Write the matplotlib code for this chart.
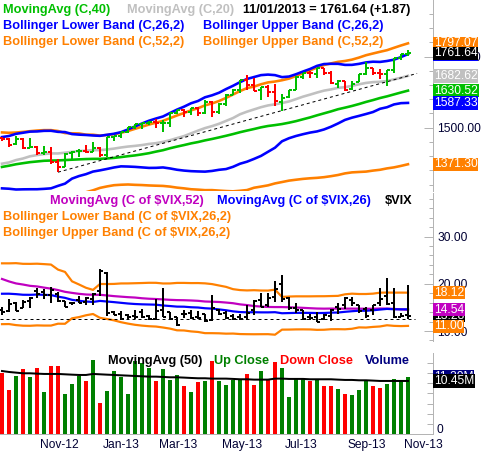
import numpy as np
import pandas as pd
import matplotlib
matplotlib.use("Agg")
import matplotlib.pyplot as plt
from matplotlib.ticker import MultipleLocator, FixedLocator, FuncFormatter, NullLocator
from matplotlib.transforms import blended_transform_factory as blend

plt.rcParams['font.family'] = ['Liberation Sans', 'DejaVu Sans']

# ---------------------------------------------------------------- data
first_week = "2012-09-21"
n_weeks = 59
weeks = pd.date_range(first_week, periods=n_weeks, freq="W-FRI")

# S&P 500 weekly closes for the 51 weeks before the first bar (needed by the indicators)
prior_close = [1131.42, 1155.46, 1224.58, 1238.25, 1285.09, 1253.23, 1263.85, 1215.65, 1158.67,
               1244.28, 1255.19, 1219.66, 1265.33, 1257.60, 1277.81, 1289.09, 1315.38, 1316.33,
               1344.90, 1342.64, 1361.23, 1365.74, 1369.63, 1370.87, 1404.17, 1397.11, 1408.47,
               1398.08, 1370.26, 1378.53, 1403.36, 1369.10, 1353.39, 1295.22, 1317.82, 1278.04,
               1325.66, 1342.84, 1335.02, 1362.16, 1354.68, 1356.78, 1362.66, 1385.97, 1390.99,
               1405.87, 1418.16, 1411.13, 1406.58, 1437.92, 1465.77]

open_ = [1465.4, 1459.5, 1440.9, 1461.4, 1428.8, 1433.2, 1411.9, 1414.0, 1380.0, 1359.9,
         1409.2, 1416.3, 1418.1, 1413.5, 1430.2, 1402.4, 1466.5, 1472.1, 1486.0, 1503.0,
         1513.2, 1517.9, 1519.8, 1515.6, 1518.2, 1551.2, 1560.7, 1556.9, 1569.2, 1553.3,
         1588.8, 1555.3, 1582.3, 1614.4, 1633.7, 1667.5, 1649.6, 1631.7, 1643.4, 1626.7,
         1588.8, 1609.8, 1634.2, 1679.6, 1692.1, 1690.3, 1709.2, 1691.4, 1655.3, 1663.5,
         1635.9, 1660.0, 1688.0, 1709.9, 1691.6, 1690.5, 1703.2, 1744.7, 1759.7]
high = [1467.1, 1463.2, 1471.0, 1464.0, 1464.0, 1437.0, 1434.3, 1433.4, 1388.8, 1409.2,
        1419.7, 1423.7, 1438.6, 1448.0, 1430.7, 1467.9, 1472.3, 1486.0, 1503.3, 1514.4,
        1518.3, 1524.7, 1530.9, 1525.8, 1552.5, 1563.6, 1564.9, 1570.3, 1573.7, 1597.4,
        1593.3, 1585.9, 1618.5, 1635.0, 1667.5, 1687.2, 1674.2, 1644.4, 1648.7, 1654.2,
        1620.1, 1632.1, 1680.3, 1693.1, 1698.4, 1709.7, 1709.2, 1697.9, 1669.5, 1664.0,
        1664.8, 1690.0, 1729.9, 1711.0, 1707.0, 1703.4, 1745.3, 1759.8, 1775.2]
low = [1454.0, 1430.5, 1439.0, 1425.5, 1426.9, 1403.3, 1405.1, 1373.0, 1343.35, 1359.9,
       1385.4, 1398.1, 1411.9, 1413.5, 1398.1, 1398.1, 1451.6, 1463.8, 1482.9, 1496.3,
       1495.0, 1510.6, 1497.3, 1485.0, 1501.5, 1547.4, 1538.6, 1545.1, 1539.5, 1548.0,
       1536.0, 1549.2, 1575.0, 1614.2, 1622.7, 1634.0, 1630.7, 1598.2, 1608.1, 1577.7,
       1560.3, 1604.6, 1634.2, 1671.8, 1676.0, 1676.0, 1684.9, 1654.2, 1639.1, 1627.5,
       1633.4, 1660.0, 1686.5, 1687.1, 1672.6, 1646.5, 1692.9, 1740.0, 1752.7]
close = [1460.15, 1440.67, 1460.93, 1428.59, 1433.19, 1411.94, 1414.20, 1379.85, 1359.88, 1409.15,
         1416.18, 1418.07, 1413.58, 1430.15, 1402.43, 1466.47, 1472.05, 1485.98, 1502.96, 1513.17,
         1517.93, 1519.79, 1515.60, 1518.20, 1551.18, 1560.70, 1556.89, 1569.19, 1553.28, 1588.85,
         1555.25, 1582.24, 1614.42, 1633.70, 1667.47, 1649.60, 1630.74, 1643.38, 1626.73, 1592.43,
         1606.28, 1631.89, 1680.19, 1692.09, 1691.65, 1709.67, 1691.42, 1655.83, 1663.50, 1632.97,
         1655.17, 1687.99, 1709.91, 1691.75, 1690.50, 1703.20, 1744.50, 1759.77, 1761.64]

# $VIX weekly closes for the 51 weeks before the first bar
vix_prior_close = [42.96, 36.27, 28.24, 31.32, 24.53, 30.50, 30.04, 32.00, 34.47, 27.52, 26.38,
                   24.29, 20.73, 23.40, 20.63, 20.91, 18.28, 18.53, 17.10, 20.79, 17.78, 17.31,
                   17.29, 17.11, 14.47, 14.82, 15.50, 16.70, 19.55, 17.44, 16.32, 19.16, 19.89,
                   25.10, 21.76, 26.66, 21.23, 21.11, 20.11, 17.08, 17.10, 16.74, 16.27, 16.70,
                   15.64, 14.74, 13.45, 15.18, 17.47, 15.60, 14.51]
vix_open = [14.5, 14.2, 15.9, 14.9, 16.4, 18.5, 18.3, 17.7, 17.9, 16.3,
            16.0, 16.5, 16.1, 16.8, 18.4, 22.3, 14.0, 13.6, 13.4, 13.2,
            14.0, 13.2, 12.6, 14.5, 14.0, 12.9, 13.7, 13.8, 13.0, 13.5,
            12.4, 14.5, 13.9, 13.2, 13.0, 12.9, 14.5, 16.5, 15.6, 17.2,
            20.0, 17.0, 14.9, 14.4, 12.9, 13.0, 12.6, 13.2, 15.0, 15.4,
            16.6, 15.5, 14.6, 14.5, 16.0, 17.5, 16.0, 13.0, 13.3]
vix_high = [15.0, 16.7, 16.2, 16.6, 17.1, 19.0, 18.9, 19.3, 18.3, 16.4,
            16.2, 17.5, 17.2, 18.0, 23.2, 22.4, 14.2, 14.2, 13.6, 14.5,
            14.6, 13.4, 16.8, 19.0, 14.1, 12.9, 14.4, 14.4, 14.3, 13.5,
            17.6, 14.7, 14.2, 13.5, 13.6, 15.6, 16.5, 18.0, 18.1, 20.5,
            21.9, 17.1, 16.0, 14.5, 13.6, 14.0, 13.5, 14.7, 15.9, 17.3,
            17.1, 15.6, 15.0, 15.5, 19.0, 21.3, 19.1, 13.9, 19.7]
vix_low = [13.3, 14.0, 14.2, 14.8, 14.9, 17.0, 16.8, 16.0, 16.2, 15.1,
           15.4, 15.9, 15.4, 15.5, 17.5, 13.2, 13.3, 12.4, 12.3, 12.6,
           12.7, 12.3, 12.4, 12.9, 12.3, 11.05, 12.7, 12.6, 12.6, 11.9,
           12.2, 13.3, 12.5, 12.3, 12.3, 12.3, 13.4, 15.1, 15.0, 16.2,
           16.2, 14.4, 13.8, 12.5, 12.3, 11.9, 12.3, 12.2, 13.7, 14.6,
           15.3, 13.8, 12.8, 13.3, 15.2, 15.6, 12.8, 12.9, 12.6]
vix_close = [13.98, 15.73, 14.33, 16.14, 17.06, 17.81, 17.59, 18.61, 16.41, 15.14,
             15.87, 15.90, 17.00, 17.84, 22.72, 13.83, 13.36, 12.46, 12.89, 12.90,
             13.02, 12.46, 14.17, 13.06, 12.59, 11.30, 13.57, 12.70, 12.85, 12.06,
             14.97, 13.61, 12.85, 12.59, 12.45, 13.86, 16.30, 15.14, 16.90, 18.90,
             16.86, 14.89, 14.42, 12.54, 12.72, 11.98, 13.41, 14.37, 14.76, 17.01,
             15.85, 14.16, 13.12, 15.46, 16.74, 15.72, 13.04, 13.09, 13.28]

# weekly volume (millions) and its 50-period moving average
volume = [12.0, 8.6, 11.4, 12.9, 11.2, 13.1, 8.2, 13.3, 13.3, 7.9,
          9.9, 11.4, 10.5, 14.5, 6.2, 8.4, 12.5, 11.2, 7.9, 14.3,
          14.0, 13.1, 10.5, 12.9, 10.7, 11.7, 9.4, 8.2, 10.2, 10.5,
          14.3, 10.5, 9.7, 10.7, 10.7, 11.9, 9.6, 12.5, 10.7, 14.1,
          13.1, 7.2, 10.9, 10.9, 10.5, 10.9, 9.4, 9.5, 8.9, 7.8,
          7.6, 8.6, 10.7, 9.5, 9.1, 9.9, 10.9, 10.4, 11.2]
volume_ma50 = [12.41, 12.22, 12.09, 11.96, 11.96, 11.89, 11.83, 11.83, 11.83, 11.76,
               11.69, 11.63, 11.63, 11.83, 11.76, 11.69, 11.63, 11.56, 11.50, 11.43,
               11.37, 11.30, 11.30, 11.24, 11.17, 11.17, 11.11, 11.04, 10.98, 10.98,
               10.91, 10.91, 10.91, 10.85, 10.78, 10.78, 10.71, 10.71, 10.71, 10.91,
               10.91, 10.85, 10.85, 10.85, 10.78, 10.78, 10.78, 10.78, 10.71, 10.65,
               10.65, 10.58, 10.58, 10.52, 10.45, 10.45, 10.45, 10.45, 10.45]

# last-value tags shown on the right axis
price_tag_values = [1797.07, 1761.64, 1682.62, 1630.52, 1587.33, 1371.30]
vix_tag_values = [18.12, 14.54, 11.00]
volume_tag_value = 10.45

trend_anchor_weeks = [8, 40]      # lows joined by the dashed trend line
vix_support_level = 12.45

# ---------------------------------------------------------------- indicators
k = len(prior_close)
c_all = pd.Series(prior_close + close)
ma20 = c_all.rolling(20).mean().values[k:]
ma40 = c_all.rolling(40).mean().values[k:]
m26, s26 = c_all.rolling(26).mean(), c_all.rolling(26).std(ddof=0)
m52, s52 = c_all.rolling(52).mean(), c_all.rolling(52).std(ddof=0)
bb26_up, bb26_lo = (m26 + 2 * s26).values[k:], (m26 - 2 * s26).values[k:]
bb52_up, bb52_lo = (m52 + 2 * s52).values[k:], (m52 - 2 * s52).values[k:]

kv = len(vix_prior_close)
v_all = pd.Series(vix_prior_close + vix_close)
vma52 = v_all.rolling(52).mean().values[kv:]
vma26 = v_all.rolling(26).mean().values[kv:]
vs26 = v_all.rolling(26).std(ddof=0).values[kv:]
vbb_up, vbb_lo = vma26 + 2 * vs26, vma26 - 2 * vs26

x = np.arange(n_weeks)
prev = np.array([prior_close[-1]] + close[:-1])
up = np.array(close) >= prev

# ---------------------------------------------------------------- styling
W, H, DPI = 485, 451, 100
RIGHT = 432.5
AXC = '#B4B4B4'
LBL = '#000033'
GREEN, RED = '#00BF00', '#FF0000'
ORANGE, BLUE, GRAY, MAGENTA = '#FF8000', '#0000FF', '#C0C0C0', '#C000C0'
LBLSZ = 8.64          # 12 px
LEGSZ = 9.2           # ~12.8 px, bold
px = 72.0 / DPI       # points per pixel

fig = plt.figure(figsize=(W / DPI, H / DPI), dpi=DPI, facecolor='white')
XL = (-2 / 7, (RIGHT - 2) / 7)


def panel(top, bot, ylim):
    ax = fig.add_axes([0, 1 - bot / H, RIGHT / W, (bot - top) / H])
    ax.set_facecolor('none')
    for s in ('top', 'left', 'bottom'):
        ax.spines[s].set_visible(False)
    ax.spines['right'].set_color(AXC)
    ax.spines['right'].set_linewidth(1 * px)
    ax.yaxis.tick_right()
    ax.tick_params(axis='x', which='both', bottom=False, labelbottom=False)
    ax.tick_params(axis='y', which='both', direction='in', color=AXC, width=1 * px,
                   labelcolor=LBL, labelsize=LBLSZ, pad=5 * px, left=False, right=True)
    ax.tick_params(axis='y', which='major', length=9 * px)
    ax.tick_params(axis='y', which='minor', length=4 * px)
    ax.set_xlim(XL)
    ax.set_ylim(ylim)
    return ax


def ohlc(ax, o, h, l, c, colors, lw=2 * px, tick=0.36):
    ax.vlines(x, l, h, colors=colors, lw=lw)
    ax.hlines(o, x - tick, x, colors=colors, lw=lw)
    ax.hlines(c, x, x + tick, colors=colors, lw=lw)


def ftext(xp, yp, s, color, bold=True, size=LEGSZ, **kw):
    fig.text(xp / W, 1 - yp / H, s, color=color, fontsize=size,
             fontweight='bold' if bold else 'normal', va='baseline', ha='left', **kw)


def tag(ax, value, s, fc, tc='white'):
    tr = blend(fig.transFigure, ax.transData)
    fig.text(434 / W, value, s, transform=tr, color=tc, fontsize=LBLSZ, va='center', ha='left',
             bbox=dict(boxstyle='square,pad=0.06', fc=fc, ec='none'))


fmt2 = FuncFormatter(lambda v, p: f"{v:.2f}")

# ---------------------------------------------------------------- price panel
ax_p = panel(0, 191, (1500 - 63.3 * 3.521, 1500 + 127.7 * 3.521))
ax_p.plot(x, bb52_lo, color=ORANGE, lw=2.6 * px)
ax_p.plot(x, bb26_lo, color=BLUE, lw=2.6 * px)
ax_p.plot(x, ma40, color=GREEN, lw=2.6 * px)
ax_p.plot(x, ma20, color=GRAY, lw=2.6 * px)
ax_p.plot(x, bb52_up, color=ORANGE, lw=2.6 * px)
ax_p.plot(x, bb26_up, color=BLUE, lw=2.6 * px)
ta, tb = trend_anchor_weeks
slope = (low[tb] - low[ta]) / (tb - ta)
tx = np.array([ta, 59.3])
ax_p.plot(tx, low[ta] + slope * (tx - ta), color='black', lw=1 * px, ls=(0, (3, 3)))
ohlc(ax_p, open_, high, low, close, np.where(up, GREEN, RED))
ax_p.yaxis.set_major_locator(FixedLocator([1500, 1750]))
ax_p.yaxis.set_minor_locator(MultipleLocator(50))
ax_p.yaxis.set_major_formatter(fmt2)

# ---------------------------------------------------------------- VIX panel
ax_x = panel(193, 341, (10 - 10 / 4.725, 10 + 138 / 4.725))
ax_x.plot(x, vbb_up, color=ORANGE, lw=2.2 * px)
ax_x.plot(x, vbb_lo, color=ORANGE, lw=2.2 * px)
ax_x.plot(x, vma52, color=MAGENTA, lw=2.2 * px)
ax_x.plot(x, vma26, color=BLUE, lw=2.2 * px)
ax_x.plot([XL[0], 59.0], [vix_support_level] * 2, color='black', lw=1 * px, ls=(0, (3, 3)))
ohlc(ax_x, vix_open, vix_high, vix_low, vix_close, 'black')
ax_x.yaxis.set_major_locator(FixedLocator([10, 20, 30]))
ax_x.yaxis.set_minor_locator(MultipleLocator(2))
ax_x.yaxis.set_major_formatter(fmt2)

# ---------------------------------------------------------------- volume panel
ax_v = panel(353, 434, (0, 81 * 0.197))
ax_v.spines['bottom'].set_visible(True)
ax_v.spines['bottom'].set_color(AXC)
ax_v.spines['bottom'].set_linewidth(1 * px)
ax_v.bar(x, volume, width=4 / 7, color=np.where(up, '#008000', RED), linewidth=0)
ax_v.plot(x, volume_ma50, color='black', lw=2 * px)
ax_v.yaxis.set_major_locator(NullLocator())
ax_v.yaxis.set_minor_locator(FixedLocator(np.arange(2, 16, 2)))
ax_v.tick_params(axis='y', which='minor', length=6 * px)
ftext(437, 433.3, "0", LBL, bold=False, size=LBLSZ)

# month labels
tr_dates = blend(ax_v.transData, fig.transFigure)
for i in range(1, n_weeks):
    d, dp = weeks[i], weeks[i - 1]
    if d.month != dp.month and d.month % 2 == 1:
        fig.text(i - 4 / 7, 1 - 448.3 / H, d.strftime('%b-%y'), transform=tr_dates,
                 color=LBL, fontsize=LBLSZ, ha='left', va='baseline')

# ---------------------------------------------------------------- legends
hdr = f"{weeks[-1].strftime('%m/%d/%Y')} = {close[-1]:.2f} ({close[-1] - close[-2]:+.2f})"
ftext(3, 12.7, "MovingAvg (C,40)", GREEN)
ftext(127, 12.7, "MovingAvg (C,20)", GRAY)
ftext(243, 12.7, hdr, 'black')
ftext(3, 28.7, "Bollinger Lower Band (C,26,2)", BLUE)
ftext(203, 28.7, "Bollinger Upper Band (C,26,2)", BLUE)
ftext(3, 44.7, "Bollinger Lower Band (C,52,2)", ORANGE)
ftext(203, 44.7, "Bollinger Upper Band (C,52,2)", ORANGE)

ftext(50, 204, "MovingAvg (C of $VIX,52)", MAGENTA)
ftext(217, 204, "MovingAvg (C of $VIX,26)", BLUE)
ftext(385, 204, "$VIX", 'black')
ftext(3, 220, "Bollinger Lower Band (C of $VIX,26,2)", ORANGE)
ftext(3, 235.7, "Bollinger Upper Band (C of $VIX,26,2)", ORANGE)

ftext(108, 364.3, "MovingAvg (50)", 'black')
ftext(214, 364.3, "Up Close", '#008000')
ftext(280, 364.3, "Down Close", RED)
ftext(365, 364.3, "Volume", '#000080')

# ---------------------------------------------------------------- right-axis value tags
p_up52, p_last, p_ma20, p_ma40, p_lo26, p_lo52 = price_tag_values
tag(ax_p, p_up52, f"{p_up52:.2f}", ORANGE)
tag(ax_p, bb26_up[-1], f"{bb26_up[-1]:.2f}", BLUE)
tag(ax_p, p_last, f"{p_last:.2f}", 'black')
tag(ax_p, p_ma20, f"{p_ma20:.2f}", GRAY)
tag(ax_p, p_ma40, f"{p_ma40:.2f}", GREEN)
tag(ax_p, p_lo26, f"{p_lo26:.2f}", BLUE)
tag(ax_p, p_lo52, f"{p_lo52:.2f}", ORANGE)

v_up, v_ma52, v_lo = vix_tag_values
tag(ax_x, vix_close[-1], f"{vix_close[-1]:.2f}", 'black')
tag(ax_x, vma26[-1], f"{vma26[-1]:.2f}", BLUE)
tag(ax_x, v_ma52, f"{v_ma52:.2f}", MAGENTA)
tag(ax_x, v_up, f"{v_up:.2f}", ORANGE)
tag(ax_x, v_lo, f"{v_lo:.2f}", ORANGE)

tag(ax_v, volume[-1], f"{volume[-1]:.2f}M", '#000080')
tag(ax_v, volume_tag_value, f"{volume_tag_value:.2f}M", 'black')

fig.savefig("out.png", dpi=DPI, facecolor='white')
